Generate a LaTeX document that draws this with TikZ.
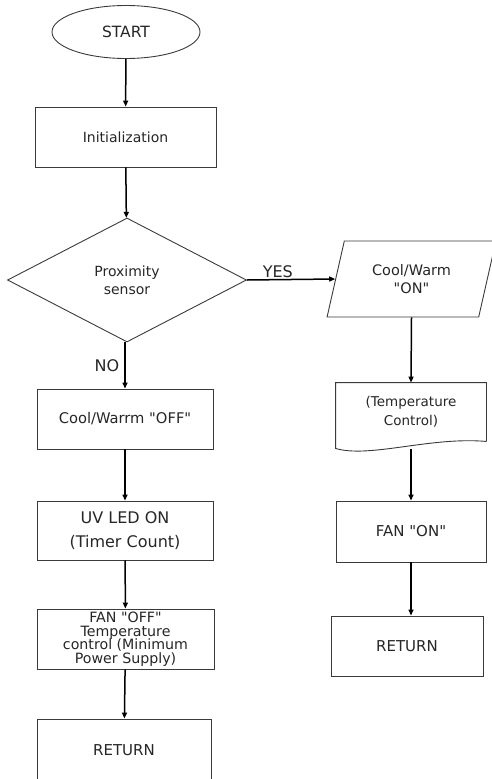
\documentclass[tikz,border=0pt]{standalone}
\usepackage{fontspec}
\setmainfont{DejaVu Sans}[Ligatures=TeXOff]
\usetikzlibrary{shapes.geometric,arrows.meta}
\definecolor{textgray}{HTML}{262626}
\definecolor{linegray}{HTML}{3A3A3A}
\newcommand{\tightfont}{\fontsize{14.2}{13.5}\selectfont\lineskiplimit=-20pt\relax}
\tikzset{
	block/.style={draw=linegray, line width=0.9pt, rectangle, align=center, text=textgray,
		font=\fontsize{15}{24}\selectfont},
	startstop/.style={block, ellipse},
	decision/.style={block, diamond, aspect=1.9, inner sep=0pt,
		font=\fontsize{14}{18}\selectfont},
	inout/.style={block, trapezium, trapezium left angle=73, trapezium right angle=107,
		trapezium stretches=true, font=\fontsize{14.5}{18}\selectfont},
	document/.style={block, draw=none, font=\fontsize{13.5}{19}\selectfont},
	flow/.style={line width=1.5pt, black, -{Triangle[length=6pt,width=5pt]}},
	tag/.style={text=textgray, font=\fontsize{16}{18}\selectfont, inner sep=1pt}
}
\begin{document}
\begin{tikzpicture}[x=1pt, y=-1pt]
		\useasboundingbox (0, 0) rectangle (491, 779);
		% Linke Spalte
		\node [startstop, minimum width=148, minimum height=53, font=\fontsize{15.5}{18}\selectfont] (start) at (126, 32) {START};
		\node [block, minimum width=181, minimum height=60, font=\fontsize{14}{18}\selectfont] (init) at (125.5, 137) {Initialization};
		\node [decision, minimum width=239, minimum height=124] (prox) at (127, 280) {Proximity\\sensor};
		\node [block, minimum width=176, minimum height=60, font=\fontsize{14.7}{18}\selectfont] (cooloff) at (125, 419) {Cool/Warrm "OFF"};
		\node [block, minimum width=176, minimum height=59, font=\fontsize{16}{24}\selectfont] (uvled) at (125, 530.5) {UV LED ON\\(Timer Count)};
		\node [block, minimum width=177, minimum height=60, inner sep=0pt, font=\tightfont] (fanoff) at (125.5, 639) {FAN "OFF"\\Temperature\\control (Minimum\\Power Supply)};
		\node [block, minimum width=174, minimum height=62] (retL) at (124, 750) {RETURN};
		% Rechte Spalte
		\node [inout, minimum width=169, minimum height=76] (coolon) at (411.5, 279) {Cool/Warm\\"ON"};
		\node [document, minimum width=150, minimum height=58] (tempctl) at (411, 412) {(Temperature\\Control)};
		\draw [draw=linegray, line width=0.9pt] (tempctl.south east) -- (tempctl.north east)
			-- (tempctl.north west) -- ([yshift=-7pt]tempctl.south west)
			.. controls +(34, 10) and +(-56, -5) .. (tempctl.south east);
		\node [block, minimum width=150, minimum height=61] (fanon) at (411, 531.5) {FAN "ON"};
		\node [block, minimum width=152, minimum height=60] (retR) at (407, 646) {RETURN};
		% Pfeile
		\draw [flow] (start) -- (init);
		\draw [flow] (init) -- (prox);
		\draw [flow] (prox.east) -- node [tag, pos=0.35, above] {YES} (coolon.west);
		\draw [flow] (cooloff.north |- prox.south) -- node [tag, left=4pt] {NO} (cooloff.north);
		\draw [flow] (cooloff) -- (uvled);
		\draw [flow] (uvled) -- (fanoff);
		\draw [flow] (fanoff) -- (retL);
		\draw [flow] (coolon.south) -- (tempctl.north);
		\draw [flow] ([yshift=-8pt]tempctl.south) -- (fanon.north);
		\draw [flow] (fanon) -- (retR.north -| fanon.south);
	\end{tikzpicture}
\end{document}
